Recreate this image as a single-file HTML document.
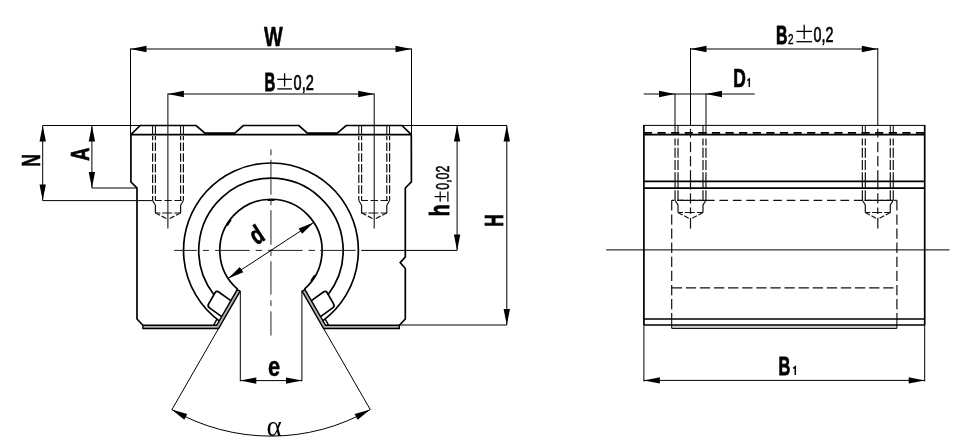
<!DOCTYPE html>
<html><head><meta charset="utf-8"><title>Linear bearing housing drawing</title>
<style>
html,body{margin:0;padding:0;background:#fff;}
body{width:970px;height:447px;overflow:hidden;font-family:"Liberation Sans",sans-serif;}
svg{display:block;will-change:transform;filter:grayscale(1);}
.pm{stroke:#000;fill:none;}
svg text{font-family:"Liberation Sans",sans-serif;fill:#000;}
.k{fill:none;stroke:#000;stroke-width:1.7;stroke-linejoin:miter;stroke-linecap:butt;}
.kd{fill:none;stroke:#000;stroke-width:1.6;stroke-dasharray:8.2 5.4;}
.n{fill:none;stroke:#000;stroke-width:1.0;}
.c{fill:none;stroke:#222;stroke-width:1.0;}
.h{fill:none;stroke:#111;stroke-width:1.15;stroke-dasharray:9.5 3.8;}
.h2{fill:none;stroke:#111;stroke-width:1.1;stroke-dasharray:6 2.5;}
.cl{fill:none;stroke:#000;stroke-width:1.0;stroke-dasharray:9.2 4;}
.a{fill:#000;stroke:none;}
.p{fill:none;stroke:#000;stroke-width:1.4;stroke-linejoin:miter;}
.hh{fill:none;stroke:#111;stroke-width:1.2;}
</style></head>
<body>
<svg width="970" height="447" viewBox="0 0 970 447">
<rect x="0" y="0" width="970" height="447" fill="#ffffff"/>
<path class="k" d="M130.90,134.60 L140.20,125.50 L196.10,125.50 L204.90,133.20 L234.80,133.20 L243.30,125.50 L298.90,125.50 L307.40,133.20 L337.30,133.20 L346.10,125.50 L402.00,125.50 L411.30,134.60 L411.40,181.80 L405.30,188.00 L405.30,257.00 L400.20,262.60 L405.30,268.50 L405.30,319.00 L399.40,325.25" />
<path class="k" d="M130.90,134.60 L130.90,181.80 L137.00,188.00 L137.00,319.00 L142.90,325.25" />
<line class="k" x1="130.90" y1="134.60" x2="411.40" y2="134.60" />
<polygon fill="#b0b0b0" stroke="none" points="142.80,325.25 216.63,325.25 237.24,289.55 240.10,291.20 218.56,328.50 142.80,328.50"/>
<path class="p" d="M216.63,325.25 L142.90,325.25 L142.90,328.50 L218.56,328.50 L240.10,291.20 L237.24,289.55 Z" />
<line class="p" x1="213.60" y1="325.25" x2="217.10" y2="318.80" />
<line class="n" x1="218.56" y1="328.50" x2="172.00" y2="409.50" />
<line class="n" x1="240.30" y1="291.20" x2="240.30" y2="381.30" />
<polygon fill="#b0b0b0" stroke="none" points="399.40,325.25 325.57,325.25 304.96,289.55 302.10,291.20 323.64,328.50 399.40,328.50"/>
<path class="p" d="M325.57,325.25 L399.30,325.25 L399.30,328.50 L323.64,328.50 L302.10,291.20 L304.96,289.55 Z" />
<line class="p" x1="328.60" y1="325.25" x2="325.10" y2="318.80" />
<line class="n" x1="323.64" y1="328.50" x2="370.20" y2="409.50" />
<line class="n" x1="301.90" y1="291.20" x2="301.90" y2="381.30" />
<path class="k" d="M237.50,289.10 A51.15,51.15 0 1 1 304.40,289.10" />
<path class="k" d="M219.19,320.82 A87.4,87.4 0 1 1 322.71,320.82" />
<path class="k" d="M230.84,300.64 L218.71,291.98 Q216.43,290.36 215.03,292.78 L208.63,303.87 Q207.23,306.29 209.51,307.92 L221.64,316.57" />
<path class="k" d="M311.36,300.64 L323.49,291.98 Q325.77,290.36 327.17,292.78 L333.57,303.87 Q334.97,306.29 332.69,307.92 L320.56,316.57" />
<path class="k" d="M213.93,294.69 A72.2,72.2 0 1 1 327.97,294.69" />
<path d="M273.76,200.13 A50.35,50.35 0 0 0 268.14,200.13" fill="none" stroke="#000" stroke-width="1.7" stroke-linecap="round"/>
<path d="M230.58,220.31 A50.35,50.35 0 0 0 227.48,225.00" fill="none" stroke="#000" stroke-width="1.7" stroke-linecap="round"/>
<path d="M311.32,280.49 A50.35,50.35 0 0 0 314.42,275.80" fill="none" stroke="#000" stroke-width="1.7" stroke-linecap="round"/>
<line class="c" x1="270.95" y1="149.40" x2="270.95" y2="155.30" />
<line class="c" x1="270.95" y1="159.70" x2="270.95" y2="194.60" />
<line class="c" x1="270.95" y1="199.10" x2="270.95" y2="205.20" />
<line class="c" x1="270.95" y1="210.20" x2="270.95" y2="244.80" />
<line class="c" x1="270.95" y1="249.20" x2="270.95" y2="256.00" />
<line class="c" x1="270.95" y1="261.30" x2="270.95" y2="294.60" />
<line class="c" x1="270.95" y1="300.30" x2="270.95" y2="306.00" />
<line class="c" x1="270.95" y1="311.40" x2="270.95" y2="335.50" />
<line class="c" x1="174.00" y1="250.40" x2="196.80" y2="250.40" />
<line class="c" x1="202.90" y1="250.40" x2="208.90" y2="250.40" />
<line class="c" x1="215.20" y1="250.40" x2="249.70" y2="250.40" />
<line class="c" x1="255.70" y1="250.40" x2="262.00" y2="250.40" />
<line class="c" x1="267.90" y1="250.40" x2="302.60" y2="250.40" />
<line class="c" x1="308.50" y1="250.40" x2="315.00" y2="250.40" />
<line class="c" x1="320.10" y1="250.40" x2="355.60" y2="250.40" />
<line class="n" x1="361.30" y1="250.40" x2="457.10" y2="250.40" />
<line class="n" x1="152.60" y1="125.50" x2="152.60" y2="134.60" />
<line class="n" x1="155.40" y1="125.50" x2="155.40" y2="134.60" />
<line class="hh" x1="152.60" y1="136.10" x2="152.60" y2="200.50" stroke-dasharray="8.5 2.2" stroke-dashoffset="4.3"/>
<line class="hh" x1="155.40" y1="136.10" x2="155.40" y2="200.50" stroke-dasharray="8.5 2.2" stroke-dashoffset="4.3"/>
<path class="hh" d="M152.60,200.5 L155.40,205.3 L155.40,213.0" />
<line class="hh" x1="155.40" y1="213.00" x2="168.00" y2="219.30" stroke-dasharray="5.2 1.8"/>
<line class="n" x1="183.40" y1="125.50" x2="183.40" y2="134.60" />
<line class="n" x1="180.60" y1="125.50" x2="180.60" y2="134.60" />
<line class="hh" x1="183.40" y1="136.10" x2="183.40" y2="200.50" stroke-dasharray="8.5 2.2" stroke-dashoffset="4.3"/>
<line class="hh" x1="180.60" y1="136.10" x2="180.60" y2="200.50" stroke-dasharray="8.5 2.2" stroke-dashoffset="4.3"/>
<path class="hh" d="M183.40,200.5 L180.60,205.3 L180.60,213.0" />
<line class="hh" x1="180.60" y1="213.00" x2="168.00" y2="219.30" stroke-dasharray="5.2 1.8"/>
<line class="hh" x1="155.20" y1="200.50" x2="183.40" y2="200.50" stroke-dasharray="6.6 2.6 7.4 2.6 7.4 30"/>
<line class="hh" x1="155.40" y1="213.00" x2="180.60" y2="213.00" stroke-dasharray="5 1.8 10 2.2 6 30"/>
<line class="n" x1="358.80" y1="125.50" x2="358.80" y2="134.60" />
<line class="n" x1="361.60" y1="125.50" x2="361.60" y2="134.60" />
<line class="hh" x1="358.80" y1="136.10" x2="358.80" y2="200.50" stroke-dasharray="8.5 2.2" stroke-dashoffset="4.3"/>
<line class="hh" x1="361.60" y1="136.10" x2="361.60" y2="200.50" stroke-dasharray="8.5 2.2" stroke-dashoffset="4.3"/>
<path class="hh" d="M358.80,200.5 L361.60,205.3 L361.60,213.0" />
<line class="hh" x1="361.60" y1="213.00" x2="374.20" y2="219.30" stroke-dasharray="5.2 1.8"/>
<line class="n" x1="389.60" y1="125.50" x2="389.60" y2="134.60" />
<line class="n" x1="386.80" y1="125.50" x2="386.80" y2="134.60" />
<line class="hh" x1="389.60" y1="136.10" x2="389.60" y2="200.50" stroke-dasharray="8.5 2.2" stroke-dashoffset="4.3"/>
<line class="hh" x1="386.80" y1="136.10" x2="386.80" y2="200.50" stroke-dasharray="8.5 2.2" stroke-dashoffset="4.3"/>
<path class="hh" d="M389.60,200.5 L386.80,205.3 L386.80,213.0" />
<line class="hh" x1="386.80" y1="213.00" x2="374.20" y2="219.30" stroke-dasharray="5.2 1.8"/>
<line class="hh" x1="361.40" y1="200.50" x2="389.60" y2="200.50" stroke-dasharray="6.6 2.6 7.4 2.6 7.4 30"/>
<line class="hh" x1="361.60" y1="213.00" x2="386.80" y2="213.00" stroke-dasharray="5 1.8 10 2.2 6 30"/>
<line class="n" x1="42.70" y1="125.50" x2="140.20" y2="125.50" />
<line class="n" x1="402.10" y1="125.50" x2="507.00" y2="125.50" />
<line class="n" x1="130.50" y1="48.50" x2="130.50" y2="134.60" />
<line class="n" x1="411.50" y1="48.50" x2="411.50" y2="134.60" />
<line class="n" x1="130.50" y1="49.00" x2="411.50" y2="49.00" />
<polygon class="a" points="130.50,49.00 146.50,45.80 146.50,52.20"/>
<polygon class="a" points="411.50,49.00 395.50,52.20 395.50,45.80"/>
<line class="n" x1="167.90" y1="93.50" x2="167.90" y2="228.50" />
<line class="n" x1="374.20" y1="93.50" x2="374.20" y2="228.50" />
<line class="n" x1="167.90" y1="94.00" x2="374.20" y2="94.00" />
<polygon class="a" points="167.90,94.00 183.90,90.80 183.90,97.20"/>
<polygon class="a" points="374.20,94.00 358.20,97.20 358.20,90.80"/>
<line class="n" x1="42.70" y1="125.50" x2="42.70" y2="200.60" />
<polygon class="a" points="42.70,125.50 45.90,141.50 39.50,141.50"/>
<polygon class="a" points="42.70,200.60 39.50,184.60 45.90,184.60"/>
<line class="n" x1="42.70" y1="200.60" x2="152.60" y2="200.60" />
<line class="n" x1="91.90" y1="125.50" x2="91.90" y2="188.00" />
<polygon class="a" points="91.90,125.50 95.10,141.50 88.70,141.50"/>
<polygon class="a" points="91.90,188.00 88.70,172.00 95.10,172.00"/>
<line class="n" x1="91.90" y1="188.00" x2="137.00" y2="188.00" />
<line class="n" x1="457.10" y1="125.50" x2="457.10" y2="250.40" />
<polygon class="a" points="457.10,125.50 460.30,141.50 453.90,141.50"/>
<polygon class="a" points="457.10,250.40 453.90,234.40 460.30,234.40"/>
<line class="n" x1="506.80" y1="125.50" x2="506.80" y2="325.00" />
<polygon class="a" points="506.80,125.50 510.00,141.50 503.60,141.50"/>
<polygon class="a" points="506.80,325.00 503.60,309.00 510.00,309.00"/>
<line class="n" x1="399.50" y1="325.00" x2="506.80" y2="325.00" />
<line class="n" x1="240.30" y1="380.60" x2="302.00" y2="380.60" />
<polygon class="a" points="240.30,380.60 256.30,377.40 256.30,383.80"/>
<polygon class="a" points="302.00,380.60 286.00,383.80 286.00,377.40"/>
<line class="n" x1="228.15" y1="278.41" x2="313.75" y2="222.39" />
<polygon class="a" points="228.15,278.41 239.79,266.97 243.29,272.32"/>
<polygon class="a" points="313.75,222.39 302.11,233.83 298.61,228.48"/>
<path class="n" d="M171.60,409.48 A198.7,198.7 0 0 0 370.30,409.48" />
<polygon class="a" points="171.60,409.48 187.25,414.08 184.28,419.75"/>
<polygon class="a" points="370.30,409.48 357.62,419.75 354.65,414.08"/>
<rect x="671.7" y="325.1" width="225.19999999999993" height="3.3" fill="#cfcfcf" stroke="none"/>
<line class="n" x1="643.90" y1="125.40" x2="924.70" y2="125.40" />
<line class="k" x1="643.90" y1="125.00" x2="643.90" y2="325.10" />
<line class="k" x1="924.70" y1="125.00" x2="924.70" y2="325.10" />
<line class="kd" x1="643.90" y1="132.90" x2="924.70" y2="132.90" />
<line class="k" x1="643.90" y1="134.60" x2="924.70" y2="134.60" style="stroke-width:1.9"/>
<line class="k" x1="643.90" y1="181.40" x2="924.70" y2="181.40" style="stroke-width:1.6"/>
<line class="k" x1="643.90" y1="188.10" x2="924.70" y2="188.10" style="stroke-width:1.6"/>
<line class="k" x1="643.90" y1="319.10" x2="924.70" y2="319.10" style="stroke-width:1.5"/>
<line class="k" x1="643.90" y1="325.10" x2="924.70" y2="325.10" style="stroke-width:1.5"/>
<line class="n" x1="671.70" y1="328.40" x2="896.90" y2="328.40" />
<line class="n" x1="671.70" y1="317.00" x2="671.70" y2="328.40" />
<line class="n" x1="896.90" y1="317.00" x2="896.90" y2="328.40" />
<line class="hh" x1="671.70" y1="200.30" x2="896.90" y2="200.30" stroke-dasharray="8.7 4.75" stroke-dashoffset="6.1"/>
<line class="hh" x1="671.70" y1="287.80" x2="896.90" y2="287.80" stroke-dasharray="10.3 3.8"/>
<line class="hh" x1="671.70" y1="200.30" x2="671.70" y2="317.00" stroke-dasharray="10.3 3.8"/>
<line class="hh" x1="896.90" y1="200.30" x2="896.90" y2="317.00" stroke-dasharray="10.3 3.8"/>
<line class="n" x1="606.20" y1="249.90" x2="949.50" y2="249.90" />
<line class="n" x1="675.05" y1="125.40" x2="675.05" y2="134.50" />
<line class="n" x1="678.00" y1="125.40" x2="678.00" y2="134.50" />
<line class="hh" x1="675.05" y1="138.60" x2="675.05" y2="181.00" stroke-dasharray="10.1 2.2" stroke-dashoffset="3.2"/>
<line class="hh" x1="678.00" y1="138.60" x2="678.00" y2="181.00" stroke-dasharray="10.1 2.2" stroke-dashoffset="3.2"/>
<line class="hh" x1="675.05" y1="181.40" x2="675.05" y2="188.10" />
<line class="hh" x1="678.00" y1="181.40" x2="678.00" y2="188.10" />
<line class="hh" x1="675.05" y1="190.20" x2="675.05" y2="200.30" />
<line class="hh" x1="678.00" y1="190.20" x2="678.00" y2="200.30" />
<path class="hh" d="M675.05,200.3 L678.00,205.0 L678.00,212.5" />
<line class="hh" x1="678.00" y1="212.50" x2="690.50" y2="219.30" stroke-dasharray="5.2 1.8"/>
<line class="n" x1="705.95" y1="125.40" x2="705.95" y2="134.50" />
<line class="n" x1="703.00" y1="125.40" x2="703.00" y2="134.50" />
<line class="hh" x1="705.95" y1="138.60" x2="705.95" y2="181.00" stroke-dasharray="10.1 2.2" stroke-dashoffset="3.2"/>
<line class="hh" x1="703.00" y1="138.60" x2="703.00" y2="181.00" stroke-dasharray="10.1 2.2" stroke-dashoffset="3.2"/>
<line class="hh" x1="705.95" y1="181.40" x2="705.95" y2="188.10" />
<line class="hh" x1="703.00" y1="181.40" x2="703.00" y2="188.10" />
<line class="hh" x1="705.95" y1="190.20" x2="705.95" y2="200.30" />
<line class="hh" x1="703.00" y1="190.20" x2="703.00" y2="200.30" />
<path class="hh" d="M705.95,200.3 L703.00,205.0 L703.00,212.5" />
<line class="hh" x1="703.00" y1="212.50" x2="690.50" y2="219.30" stroke-dasharray="5.2 1.8"/>
<line class="hh" x1="677.05" y1="200.30" x2="705.95" y2="200.30" stroke-dasharray="6.4 3.7 8 3.7 8 30"/>
<line class="hh" x1="678.00" y1="212.50" x2="703.00" y2="212.50" stroke-dasharray="5 1.8 10 2.2 6 30"/>
<line class="hh" x1="690.50" y1="128.80" x2="690.50" y2="137.60" />
<line class="hh" x1="690.50" y1="141.90" x2="690.50" y2="152.20" />
<line class="hh" x1="690.50" y1="156.00" x2="690.50" y2="166.30" />
<line class="hh" x1="690.50" y1="170.20" x2="690.50" y2="189.50" />
<line class="hh" x1="690.50" y1="193.30" x2="690.50" y2="203.60" />
<line class="hh" x1="690.50" y1="207.50" x2="690.50" y2="213.90" />
<line class="hh" x1="690.50" y1="217.80" x2="690.50" y2="228.60" />
<line class="n" x1="862.35" y1="125.40" x2="862.35" y2="134.50" />
<line class="n" x1="865.30" y1="125.40" x2="865.30" y2="134.50" />
<line class="hh" x1="862.35" y1="138.60" x2="862.35" y2="181.00" stroke-dasharray="10.1 2.2" stroke-dashoffset="3.2"/>
<line class="hh" x1="865.30" y1="138.60" x2="865.30" y2="181.00" stroke-dasharray="10.1 2.2" stroke-dashoffset="3.2"/>
<line class="hh" x1="862.35" y1="181.40" x2="862.35" y2="188.10" />
<line class="hh" x1="865.30" y1="181.40" x2="865.30" y2="188.10" />
<line class="hh" x1="862.35" y1="190.20" x2="862.35" y2="200.30" />
<line class="hh" x1="865.30" y1="190.20" x2="865.30" y2="200.30" />
<path class="hh" d="M862.35,200.3 L865.30,205.0 L865.30,212.5" />
<line class="hh" x1="865.30" y1="212.50" x2="877.80" y2="219.30" stroke-dasharray="5.2 1.8"/>
<line class="n" x1="893.25" y1="125.40" x2="893.25" y2="134.50" />
<line class="n" x1="890.30" y1="125.40" x2="890.30" y2="134.50" />
<line class="hh" x1="893.25" y1="138.60" x2="893.25" y2="181.00" stroke-dasharray="10.1 2.2" stroke-dashoffset="3.2"/>
<line class="hh" x1="890.30" y1="138.60" x2="890.30" y2="181.00" stroke-dasharray="10.1 2.2" stroke-dashoffset="3.2"/>
<line class="hh" x1="893.25" y1="181.40" x2="893.25" y2="188.10" />
<line class="hh" x1="890.30" y1="181.40" x2="890.30" y2="188.10" />
<line class="hh" x1="893.25" y1="190.20" x2="893.25" y2="200.30" />
<line class="hh" x1="890.30" y1="190.20" x2="890.30" y2="200.30" />
<path class="hh" d="M893.25,200.3 L890.30,205.0 L890.30,212.5" />
<line class="hh" x1="890.30" y1="212.50" x2="877.80" y2="219.30" stroke-dasharray="5.2 1.8"/>
<line class="hh" x1="864.35" y1="200.30" x2="893.25" y2="200.30" stroke-dasharray="6.4 3.7 8 3.7 8 30"/>
<line class="hh" x1="865.30" y1="212.50" x2="890.30" y2="212.50" stroke-dasharray="5 1.8 10 2.2 6 30"/>
<line class="hh" x1="877.80" y1="128.80" x2="877.80" y2="137.60" />
<line class="hh" x1="877.80" y1="141.90" x2="877.80" y2="152.20" />
<line class="hh" x1="877.80" y1="156.00" x2="877.80" y2="166.30" />
<line class="hh" x1="877.80" y1="170.20" x2="877.80" y2="189.50" />
<line class="hh" x1="877.80" y1="193.30" x2="877.80" y2="203.60" />
<line class="hh" x1="877.80" y1="207.50" x2="877.80" y2="213.90" />
<line class="hh" x1="877.80" y1="217.80" x2="877.80" y2="228.60" />
<line class="n" x1="690.50" y1="48.00" x2="690.50" y2="125.40" />
<line class="n" x1="877.80" y1="48.00" x2="877.80" y2="125.40" />
<line class="n" x1="690.50" y1="49.00" x2="877.80" y2="49.00" />
<polygon class="a" points="690.50,49.00 706.50,45.80 706.50,52.20"/>
<polygon class="a" points="877.80,49.00 861.80,52.20 861.80,45.80"/>
<line class="n" x1="643.70" y1="94.00" x2="754.80" y2="94.00" />
<polygon class="a" points="675.00,94.00 659.00,97.20 659.00,90.80"/>
<polygon class="a" points="706.00,94.00 722.00,90.80 722.00,97.20"/>
<line class="n" x1="675.00" y1="93.50" x2="675.00" y2="125.40" />
<line class="n" x1="706.00" y1="93.50" x2="706.00" y2="125.40" />
<line class="n" x1="643.90" y1="325.10" x2="643.90" y2="381.50" />
<line class="n" x1="924.70" y1="325.10" x2="924.70" y2="381.50" />
<line class="n" x1="643.90" y1="380.40" x2="924.70" y2="380.40" />
<polygon class="a" points="643.90,380.40 659.90,377.20 659.90,383.60"/>
<polygon class="a" points="924.70,380.40 908.70,383.60 908.70,377.20"/>
<text transform="translate(263.90,45.70) scale(0.73,1)" font-size="27.2" font-weight="bold" text-anchor="start" stroke="#000" stroke-width="0.5" stroke-linejoin="miter" >W</text>
<text transform="translate(264.40,90.60) scale(0.56,1)" font-size="26.6" font-weight="bold" text-anchor="start" stroke="#000" stroke-width="0.9" stroke-linejoin="miter" >B</text>
<g class="pm" stroke-width="1.3"><line x1="277.30" y1="79.30" x2="291.90" y2="79.30"/><line x1="284.60" y1="73.20" x2="284.60" y2="86.40"/><line x1="277.30" y1="88.90" x2="291.90" y2="88.90"/></g>
<text transform="translate(293.60,89.80) scale(0.645,1)" font-size="22.6" font-weight="normal" text-anchor="start" stroke="#000" stroke-width="0.7" stroke-linejoin="miter" >0,2</text>
<text transform="translate(39.70,166.70) rotate(-90) scale(0.67,1)" font-size="26.0" font-weight="bold" text-anchor="start" stroke="#000" stroke-width="0.55" stroke-linejoin="miter" >N</text>
<text transform="translate(89.00,160.70) rotate(-90) scale(0.7,1)" font-size="26.0" font-weight="bold" text-anchor="start" stroke="#000" stroke-width="0.7" stroke-linejoin="miter" >A</text>
<text transform="translate(448.60,216.30) rotate(-90) scale(0.71,1)" font-size="27.5" font-weight="bold" text-anchor="start" stroke="#000" stroke-width="0.9" stroke-linejoin="miter" >h</text>
<g class="pm" stroke-width="1.25"><line x1="434.6" y1="196.6" x2="445.9" y2="196.6"/><line x1="440.2" y1="191.6" x2="440.2" y2="201.8"/><line x1="447.9" y1="191.6" x2="447.9" y2="201.8"/></g>
<text transform="translate(448.60,189.80) rotate(-90) scale(0.67,1)" font-size="18.6" font-weight="normal" text-anchor="start" stroke="#000" stroke-width="0.55" stroke-linejoin="miter" >0,02</text>
<text transform="translate(503.30,226.70) rotate(-90) scale(0.66,1)" font-size="26.0" font-weight="bold" text-anchor="start" stroke="#000" stroke-width="0.8" stroke-linejoin="miter" >H</text>
<text transform="translate(256.5,245.5) rotate(-33.2) scale(0.74,1)" font-size="26.0" font-weight="bold" stroke="#000" stroke-width="0.7">d</text>
<text transform="translate(268.00,376.20) scale(0.8,1)" font-size="27.2" font-weight="bold" text-anchor="start" stroke="#000" stroke-width="0.5" stroke-linejoin="miter" >e</text>
<text transform="translate(266.40,435.50) scale(1.0,1)" font-size="29" font-weight="normal" text-anchor="start"  style="font-family:&quot;Liberation Serif&quot;,serif">α</text>
<text transform="translate(776.00,43.70) scale(0.6,1)" font-size="26.4" font-weight="bold" text-anchor="start" stroke="#000" stroke-width="0.9" stroke-linejoin="miter" >B</text>
<text transform="translate(787.90,43.70) scale(0.72,1)" font-size="13.8" font-weight="normal" text-anchor="start" stroke="#000" stroke-width="0.45" stroke-linejoin="miter" >2</text>
<g class="pm" stroke-width="1.3"><line x1="796.40" y1="31.40" x2="812.00" y2="31.40"/><line x1="804.20" y1="24.80" x2="804.20" y2="39.00"/><line x1="796.40" y1="41.70" x2="812.00" y2="41.70"/></g>
<text transform="translate(813.50,42.00) scale(0.66,1)" font-size="21.6" font-weight="normal" text-anchor="start" stroke="#000" stroke-width="0.7" stroke-linejoin="miter" >0,2</text>
<text transform="translate(733.30,86.70) scale(0.69,1)" font-size="25.3" font-weight="bold" text-anchor="start" stroke="#000" stroke-width="0.7" stroke-linejoin="miter" >D</text>
<path d="M747.20,80.50 L749.30,78.90 L749.30,87.00" fill="none" stroke="#000" stroke-width="1.5" stroke-linejoin="miter"/>
<text transform="translate(778.40,375.00) scale(0.63,1)" font-size="26.0" font-weight="bold" text-anchor="start" stroke="#000" stroke-width="0.8" stroke-linejoin="miter" >B</text>
<path d="M793.20,368.40 L795.30,366.80 L795.30,375.00" fill="none" stroke="#000" stroke-width="1.5" stroke-linejoin="miter"/>
</svg>
</body></html>
